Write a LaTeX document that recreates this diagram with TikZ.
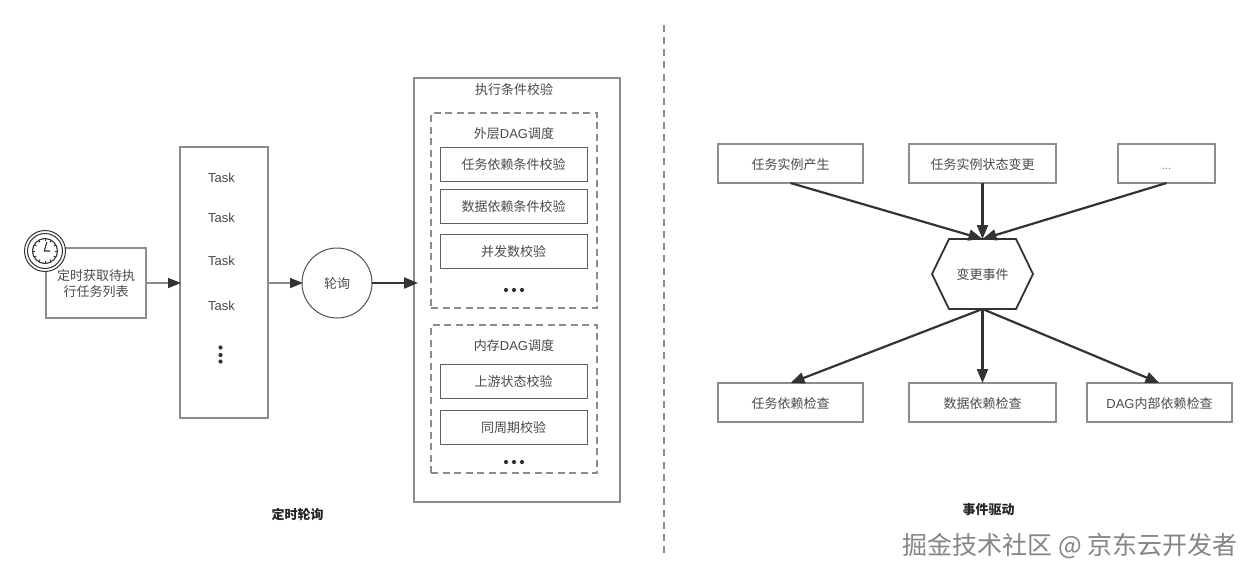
\documentclass[tikz,border=0pt]{standalone}
\usepackage{fontspec}
\setmainfont{Liberation Sans}
\newfontfamily\cjk{Noto Sans CJK SC}
\usetikzlibrary{arrows.meta,calc}
\definecolor{boxgray}{HTML}{8C8C8C}
\definecolor{dark}{HTML}{333333}
\definecolor{txt}{HTML}{4A4A4A}
\newcommand{\fs}[1]{\fontsize{#1}{#1}\selectfont}
\tikzset{
  every node/.style={inner sep=0pt,outer sep=0pt,text=txt,font=\fs{13}\cjk},
  tx/.style={text height=11.8pt,text depth=0pt},
  gbox/.style={draw=boxgray,line width=2pt,fill=white,minimum width=#1},
  gbox/.default=145pt,
  ibox/.style={tx,draw=black!62,line width=1pt,fill=white,minimum width=147pt,minimum height=34pt},
  dbox/.style={draw=boxgray,line width=1.6pt,dash pattern=on 7pt off 4.5pt,minimum width=166pt},
  ebox/.style={tx,gbox=#1,minimum height=39pt},
  dotmark/.style={circle,fill=dark,minimum size=4.2pt},
  thin arrow/.style={draw=boxgray,line width=1.5pt,-{Triangle[length=13pt,width=10pt,color=dark]}},
  bold arrow/.style={draw=dark,line width=2.2pt,-{Triangle[length=14pt,width=11pt,color=dark]}},
  latin/.style={text height=11.4pt,text depth=0pt,font=\fs{13}},
  caption/.style={font=\fs{13}\cjk\bfseries,text=black!85},
}
\begin{document}
\begin{tikzpicture}[x=1pt,y=-1pt]
\useasboundingbox[fill=white] (0,0) rectangle (1256,579);

% divider
\coordinate (divtop) at (664,25);
\coordinate (divbot) at (664,553.4);
\draw[boxgray,line width=1.6pt,dash pattern=on 7pt off 5.125pt] (divtop) -- (divbot);

% ---- left part
\node[gbox=100pt,minimum height=70pt] (fetch) at (96,283) {};
\node[align=center] (fetchtext) at (96,284) {定时获取待执\\[3pt]行任务列表};
\coordinate (clk) at (45,251);
\node[circle,draw=dark,line width=1pt,fill=white,minimum size=41pt] (ringa) at (clk) {};
\node[circle,draw=dark,line width=1pt,minimum size=35pt] (ringb) at (clk) {};
\node[circle,draw=dark,line width=1.1pt,minimum size=25pt] (ringc) at (clk) {};
\foreach \a in {0,30,...,330}{
  \draw[dark,line width=1pt] ($(clk)+(\a:10)$) -- ($(clk)+(\a:12.5)$);
}
\draw[dark,line width=1.1pt] (46.8,242) -- (44.4,251) -- (50,251);

\node[gbox=88pt,minimum height=271pt] (tasks) at (224,282.5) {};
\node[latin] (t1) at (221.5,177) {Task};
\node[latin] (t2) at (221.5,217) {Task};
\node[latin] (t3) at (221.5,260) {Task};
\node[latin] (t4) at (221.5,305) {Task};
\node[dotmark] (td1) at (220.5,347.5) {};
\node[dotmark] (td2) at (220.5,355) {};
\node[dotmark] (td3) at (220.5,361.5) {};

\node[tx,circle,draw=dark!85,line width=1pt,fill=white,minimum size=70pt] (poll) at (337,283) {轮询};

\node[gbox=206pt,minimum height=424pt] (outer) at (517,290) {};
\node[tx] (outertitle) at (514,89) {执行条件校验};

\node[dbox,minimum height=195pt] (outerdag) at (514,210.5) {};
\node[tx] (outerdagt) at (514,133) {外层\fontspec{Liberation Sans}DAG\cjk 调度};
\node[ibox] (c1) at (513.5,164) {任务依赖条件校验};
\node[ibox] (c2) at (513.5,206) {数据依赖条件校验};
\node[ibox] (c3) at (513.5,251) {并发数校验};
\node[dotmark] (d1) at (506,290) {};
\node[dotmark] (d2) at (514,290) {};
\node[dotmark] (d3) at (522,290) {};

\node[dbox,minimum height=148pt] (memdag) at (514,399) {};
\node[tx] (memdagt) at (514,345) {内存\fontspec{Liberation Sans}DAG\cjk 调度};
\node[ibox] (m1) at (513.5,381) {上游状态校验};
\node[ibox] (m2) at (513.5,427) {同周期校验};
\node[dotmark] (e1) at (506,462) {};
\node[dotmark] (e2) at (514,462) {};
\node[dotmark] (e3) at (522,462) {};

\draw[thin arrow,shorten >=-1pt] (fetch.east) -- (tasks.west |- fetch.east);
\draw[thin arrow,shorten >=-1pt] (tasks.east |- poll.west) -- (poll.west);
\draw[bold arrow,shorten >=-4pt] (poll.east) -- (outer.west |- poll.east);

\node[caption] (leftcap) at (297.5,514) {定时轮询};

% ---- right part
\node[ebox=145pt] (s1) at (790.5,163.5) {任务实例产生};
\node[ebox=147pt] (s2) at (982.5,163.5) {任务实例状态变更};
\node[ebox=97pt,font=\fs{11},text=txt!80] (s3) at (1166.5,163.5) {...};

\coordinate (hexc) at (982.5,274);
\node[minimum width=101pt,minimum height=70pt] (hex) at (hexc) {};
\draw[dark,line width=1.8pt,fill=white,line join=miter]
  (hex.west) -- ($(hex.north west)+(17,0)$) -- ($(hex.north east)+(-17,0)$) --
  (hex.east) -- ($(hex.south east)+(-17,0)$) -- ($(hex.south west)+(17,0)$) -- cycle;
\node[tx] (hext) at (hexc) {变更事件};

\node[ebox=145pt] (b1) at (790.5,402.5) {任务依赖检查};
\node[ebox=147pt] (b2) at (982.5,402.5) {数据依赖检查};
\node[ebox=145pt] (b3) at (1159.5,402.5) {\fontspec{Liberation Sans}DAG\cjk 内部依赖检查};

\draw[bold arrow] (s1.south) -- (hex.north);
\draw[bold arrow] (s2.south) -- (hex.north);
\draw[bold arrow] (s3.south) -- (hex.north);
\draw[bold arrow] (hex.south) -- (b1.north);
\draw[bold arrow] (hex.south) -- (b2.north);
\draw[bold arrow] (hex.south) -- (b3.north);

\node[caption] (rightcap) at (988.5,510) {事件驱动};
\node[font=\fs{25}\cjk,text=black!48] (mark) at (1070,546) {掘金技术社区 @ 京东云开发者};
\end{tikzpicture}
\end{document}
